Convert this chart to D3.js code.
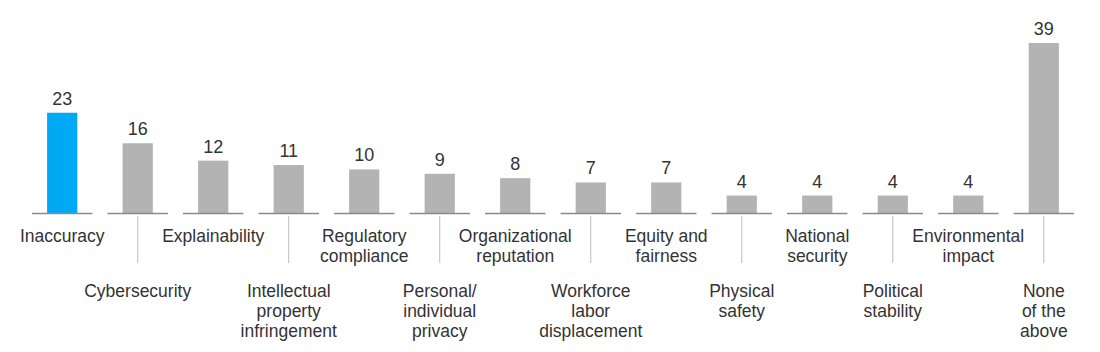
<!DOCTYPE html>
<html lang="en">
<head>
<meta charset="utf-8">
<script src="https://d3js.org/d3.v7.min.js"></script>
<style>
  body { margin: 0; background: #fff; }
  text { font-family: "Liberation Sans", Arial, sans-serif; fill: #333; }
</style>
</head>
<body>
<script>
// categories (each label split into its lines) and values
const categories = [
  ["Inaccuracy"],
  ["Cybersecurity"],
  ["Explainability"],
  ["Intellectual", "property", "infringement"],
  ["Regulatory", "compliance"],
  ["Personal/", "individual", "privacy"],
  ["Organizational", "reputation"],
  ["Workforce", "labor", "displacement"],
  ["Equity and", "fairness"],
  ["Physical", "safety"],
  ["National", "security"],
  ["Political", "stability"],
  ["Environmental", "impact"],
  ["None", "of the", "above"]
];
const values = [23, 16, 12, 11, 10, 9, 8, 7, 7, 4, 4, 4, 4, 39];
const highlighted = [0];

const width = 1100, height = 352;
const baseY = 213;

const svg = d3.select("body").append("svg")
  .attr("width", width)
  .attr("height", height);

const x = d3.scaleBand()
  .domain(d3.range(values.length))
  .range([32, 1074])
  .paddingInner(0.2)
  .paddingOuter(0);

const y = d3.scaleLinear()
  .domain([0, 39])
  .range([baseY, 43]);

const barW = x.bandwidth() / 2;
const cx = i => x(i) + x.bandwidth() / 2;

const g = svg.selectAll("g.cat")
  .data(values)
  .join("g")
  .attr("class", "cat");

// bars
g.append("rect")
  .attr("x", (d, i) => cx(i) - barW / 2)
  .attr("y", d => y(d))
  .attr("width", barW)
  .attr("height", d => y(0) - y(d))
  .attr("fill", (d, i) => highlighted.includes(i) ? "#00a9f4" : "#b3b3b3");

// baseline segment under each bar
g.append("line")
  .attr("x1", (d, i) => x(i))
  .attr("x2", (d, i) => x(i) + x.bandwidth())
  .attr("y1", y(0) + 0.5)
  .attr("y2", y(0) + 0.5)
  .attr("stroke", "#8a8a8a")
  .attr("stroke-width", 1.5);

// value labels
g.append("text")
  .attr("x", (d, i) => cx(i))
  .attr("y", d => y(d) - 8)
  .attr("text-anchor", "middle")
  .attr("font-size", 18)
  .text(d => d);

// category labels; odd ones drop lower with a connector line
g.each(function(d, i) {
  const grp = d3.select(this);
  const lower = i % 2 === 1;
  if (lower) {
    grp.append("line")
      .attr("x1", cx(i)).attr("x2", cx(i))
      .attr("y1", y(0) + 3).attr("y2", y(0) + 50)
      .attr("stroke", "#bdbdbd")
      .attr("stroke-width", 1);
  }
  const startY = lower ? y(0) + 84 : y(0) + 29;
  grp.append("text")
    .attr("text-anchor", "middle")
    .attr("font-size", 17.5)
    .selectAll("tspan")
    .data(categories[i])
    .join("tspan")
    .attr("x", cx(i))
    .attr("y", (line, k) => startY + k * 20)
    .text(line => line);
});
</script>
</body>
</html>
